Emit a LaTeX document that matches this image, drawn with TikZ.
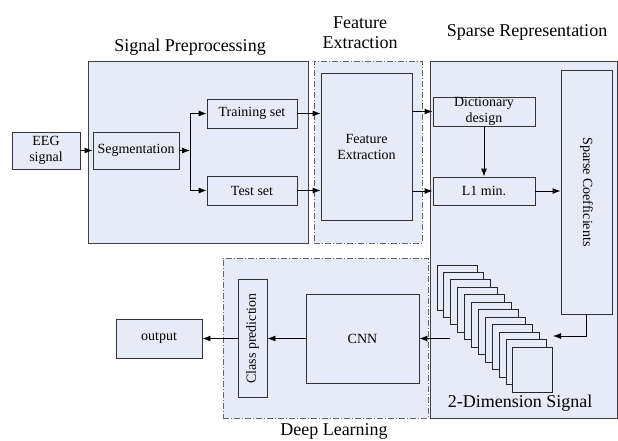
\documentclass[tikz,border=0pt]{standalone}
\usepackage{fontspec}
\setmainfont{Liberation Serif}
\usepackage{tikz}
\usetikzlibrary{arrows.meta}
\definecolor{paleblue}{RGB}{230,236,247}
\tikzset{>={Latex[length=8pt,width=6pt]}, % small filled arrow heads
	block/.style={draw=black!80, fill=paleblue, line width=0.9pt, inner sep=0pt, align=center,
		font=\fontsize{14}{16}\selectfont}, % the inner boxes
	stage/.style={draw=black!75, fill=paleblue, line width=0.9pt}, % solid group frames
	dashstage/.style={draw=black!60, fill=paleblue, line width=0.9pt,
		dash pattern=on 6pt off 2pt on 1pt off 2pt}, % dash-dot group frames
	heading/.style={align=center, font=\fontsize{18}{20}\selectfont}, % titles of the groups
	flow/.style={->, line width=0.9pt}, % connectors
}
\begin{document}
\begin{tikzpicture}[x=1pt, y=-1pt]
	\useasboundingbox (0,0) rectangle (618,440);
	% The four stages, drawn first so the blocks sit on them
	\node[stage, minimum width=220, minimum height=182] (Preprocessing) at (198,152) {};
	\node[dashstage, minimum width=108, minimum height=182] (FeatureStage) at (368,152) {};
	\node[stage, minimum width=187, minimum height=357] (SparseStage) at (523.5,239.5) {};
	\node[dashstage, minimum width=205, minimum height=160] (DeepStage) at (325.5,338) {};
	\node[heading] (PreTitle) at (190,47.5) {Signal Preprocessing};
	\node[heading] (FeatTitle) at (360,33) {Feature\\Extraction};
	\node[heading] (SparseTitle) at (527,32) {Sparse Representation};
	\node[heading] (DeepTitle) at (334,431) {Deep Learning};

	% Preprocessing of the raw signal
	\node[block, minimum width=68, minimum height=37] (EEG) at (46,150.5) {EEG\\signal};
	\node[block, minimum width=86, minimum height=37] (Segmentation) at (136,150.5) {Segmentation};
	\node[block, minimum width=90, minimum height=29] (Training) at (252,113.5) {Training set};
	\node[block, minimum width=90, minimum height=29] (Test) at (252,190.5) {Test set};
	\coordinate (Split) at (190,150.5);
	\draw[flow] (EEG) -- (Segmentation);
	\draw[flow] (Segmentation) -- (Split);
	\draw[flow] (Split) |- (Training);
	\draw[flow] (Split) |- (Test);

	%% Features
	\node[block, minimum width=91, minimum height=147] (Feature) at (366.5,146.5) {Feature\\Extraction};
	\draw[flow] (Training) -- (Training -| Feature.west);
	\draw[flow] (Test) -- (Test -| Feature.west);

	%% Sparse coding
	\node[block, minimum width=102, minimum height=29] (Dictionary) at (484,111.5) {Dictionary\\design};
	\node[block, minimum width=102, minimum height=28] (Lmin) at (484,191) {L1 min.};
	\node[block, minimum width=51, minimum height=244] (Coefficients) at (586.5,192) {\rotatebox{-90}{Sparse Coefficients}};
	\draw[flow] (Dictionary -| Feature.east) -- (Dictionary);
	\draw[flow] (Lmin -| Feature.east) -- (Lmin);
	\draw[flow] (Dictionary) -- (Lmin);
	\draw[flow] (Lmin) -- (Lmin -| Coefficients.west);

	% the stack of 2-D signals
	\foreach \i in {0,...,11}
		\draw[draw=black!85, fill=paleblue, line width=0.9pt] (437+6.9*\i,265+7.45*\i) rectangle ++(40,45);
	\node[heading] (SignalTitle) at (520,403) {2-Dimension Signal};
	\coordinate (StackIn) at (553,336);
	\coordinate (StackOut) at (450,338.5);
	\draw[flow] (Coefficients.south) |- (StackIn);

	%% Deep learning
	\node[block, minimum width=113, minimum height=89] (CNN) at (362.5,338.5) {CNN};
	\node[block, minimum width=29, minimum height=118] (Prediction) at (252.5,338.5) {\rotatebox{90}{Class prediction}};
	\node[block, minimum width=86, minimum height=39] (Output) at (159,338.5) {output};
	\draw[flow] (StackOut) -- (StackOut -| CNN.east);
	\draw[flow] (CNN) -- (Prediction);
	\draw[flow] (Prediction) -- (Output);
\end{tikzpicture}
\end{document}
